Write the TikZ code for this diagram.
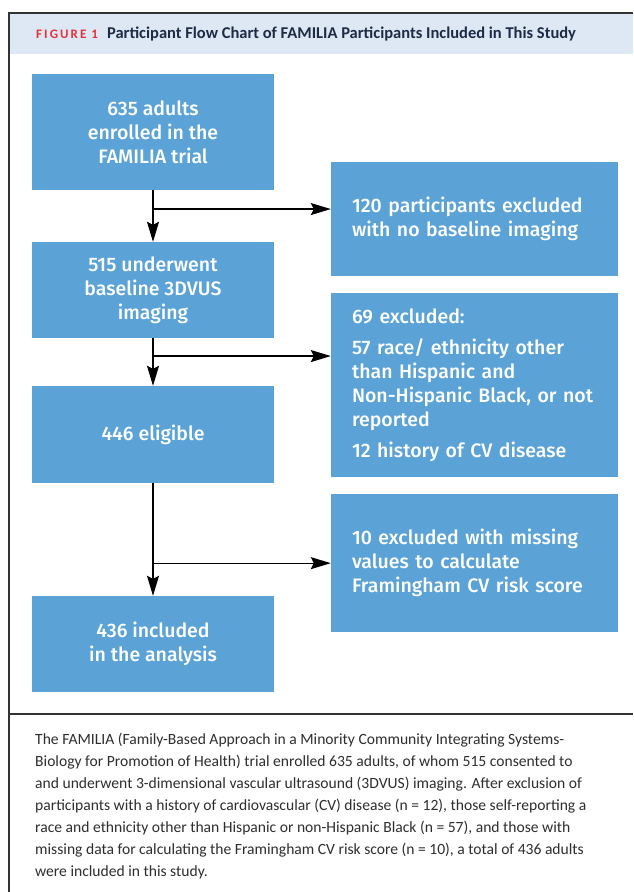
\documentclass[tikz,border=0pt]{standalone}
\usepackage{fontspec}
\setmainfont{Carlito}
\newfontfamily\boxfont{Fira Sans Medium}
\usetikzlibrary{calc}
\usetikzlibrary{arrows.meta}
\definecolor{boxblue}{HTML}{5BA3D7}
\definecolor{bandblue}{HTML}{DDE8F4}
\definecolor{figred}{HTML}{E8303A}
\definecolor{titlenavy}{HTML}{1E2B45}
\definecolor{framegray}{HTML}{333333}
\definecolor{captiongray}{HTML}{2E2E2E}

\begin{document}
\begin{tikzpicture}[x=1pt,y=-1pt,>={Stealth[length=20pt,width=12pt,inset=3pt]},
    flowbox/.style={fill=boxblue,text=white,inner sep=0pt,font=\boxfont\fontsize{19.5}{24}\selectfont},
    leftbox/.style={flowbox,minimum width=242pt,align=center},
    rightbox/.style={flowbox,minimum width=287pt,text width=245pt,align=left},
    flowline/.style={line width=1.3pt,black}]
    \useasboundingbox (0,0) rectangle (633,892);
    \fill[white] (0,0) rectangle (633,892);
    \fill[bandblue] (9,14) rectangle (633,54);
    \draw[framegray,line width=2pt] (633,13) -- (9,13) -- (9,892);
    \draw[framegray,line width=2pt] (9,714) -- (633,714);
    \node[anchor=west,inner sep=0pt] (title) at (36,34)
        {{\color{figred}\bfseries\fontsize{13}{14}\selectfont\addfontfeature{LetterSpace=16}FIGURE 1}\hspace{9pt}{\color{titlenavy}\bfseries\fontsize{16.5}{18}\selectfont Participant Flow Chart of FAMILIA Participants Included in This Study}};
    \node[leftbox,minimum height=116pt] (b1) at (153,132) {635 adults\\enrolled in the\\FAMILIA trial};
    \node[leftbox,minimum height=96pt] (b2) at (153,290) {515 underwent\\baseline 3DVUS\\imaging};
    \node[leftbox,minimum height=97pt] (b3) at (153,434.5) {446 eligible};
    \node[leftbox,minimum height=96pt] (b4) at (153,644) {436 included\\in the analysis};
    \node[rightbox,minimum height=114pt] (r1) at (474.5,219) {120 participants excluded\\with no baseline imaging};
    \node[rightbox,minimum height=184pt] (r2) at (474.5,385) {69 excluded:\\[7pt]57 race/ ethnicity other\\than Hispanic and\\Non-Hispanic Black, or not\\reported\\[7pt]12 history of CV disease};
    \node[rightbox,minimum height=138pt] (r3) at (474.5,563) {10 excluded with missing\\values to calculate\\Framingham CV risk score};
    \coordinate (j1) at ($(b1.south)!0.365!(b2.north)$);
    \coordinate (j2) at ($(b2.south)!0.375!(b3.north)$);
    \coordinate (j3) at ($(b3.south)!0.71!(b4.north)$);
    \draw[flowline,->] (b1.south) -- (b2.north);
    \draw[flowline,->] (b2.south) -- (b3.north);
    \draw[flowline,->] (b3.south) -- (b4.north);
    \draw[flowline,->] (j1) -- (j1 -| r1.west);
    \draw[flowline,->] (j2) -- (j2 -| r2.west);
    \draw[flowline,->] (j3) -- (j3 -| r3.west);
    \node[anchor=north west,inner sep=0pt,align=left,text=captiongray,font=\fontsize{15.6}{22}\selectfont] (caption) at (35,733)
        {The FAMILIA (Family-Based Approach in a Minority Community Integrating Systems-\\
        Biology for Promotion of Health) trial enrolled 635 adults, of whom 515 consented to\\
        and underwent 3-dimensional vascular ultrasound (3DVUS) imaging. After exclusion of\\
        participants with a history of cardiovascular (CV) disease (n = 12), those self-reporting a\\
        race and ethnicity other than Hispanic or non-Hispanic Black (n = 57), and those with\\
        missing data for calculating the Framingham CV risk score (n = 10), a total of 436 adults\\
        were included in this study.};
\end{tikzpicture}
\end{document}
